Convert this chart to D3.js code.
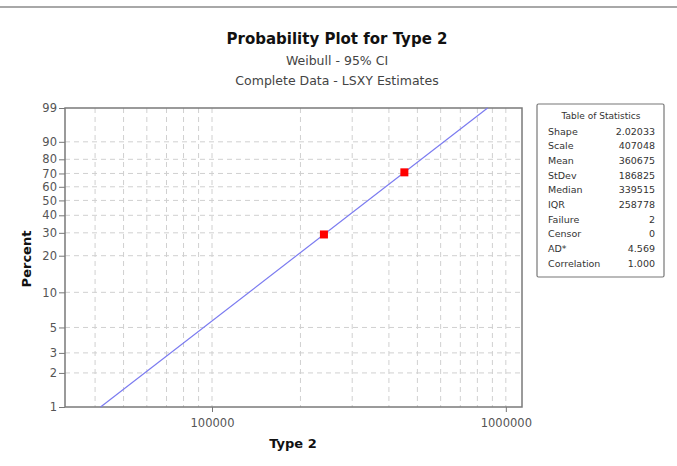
<!DOCTYPE html>
<html>
<head>
<meta charset="utf-8">
<script src="https://cdn.jsdelivr.net/npm/d3@7"></script>
<style>
  body { margin: 0; background: #fff; }
  text { font-family: "DejaVu Sans", sans-serif; }
</style>
</head>
<body>
<script>
// values
var failTimes = [240400, 451500];
var failPct = [29.17, 70.83];
var pctTicks = [1, 2, 3, 5, 10, 20, 30, 40, 50, 60, 70, 80, 90, 99];
var xLabelTicks = [100000, 1000000];
var xGrid = [40000, 50000, 60000, 70000, 80000, 90000, 100000, 200000, 300000,
             400000, 500000, 600000, 700000, 800000, 900000, 1000000];
var shape = 2.02033, scaleParam = 407048;
var statNames = ["Shape", "Scale", "Mean", "StDev", "Median", "IQR", "Failure", "Censor", "AD*", "Correlation"];
var statValues = ["2.02033", "407048", "360675", "186825", "339515", "258778", "2", "0", "4.569", "1.000"];

var W = 677, H = 466;
var pl = 65, pr = 522, pt = 108, pb = 407;

var svg = d3.select("body").append("svg")
    .attr("width", W)
    .attr("height", H);

// window frame edge
svg.append("line").attr("x1", 0).attr("x2", W).attr("y1", 7).attr("y2", 7)
    .attr("stroke", "#a8a8a8").attr("stroke-width", 2);

function wt(p) { return Math.log(-Math.log(1 - p / 100)); }

var x = d3.scaleLog().domain([31600, 1135000]).range([pl, pr]);
var y = d3.scaleLinear().domain([wt(1), wt(99)]).range([pb, pt]);

// grid
svg.selectAll("line.vg")
    .data(xGrid)
    .enter()
    .append("line")
    .attr("x1", function(d) { return x(d); })
    .attr("x2", function(d) { return x(d); })
    .attr("y1", pt)
    .attr("y2", pb)
    .attr("stroke", "#d0d0d0")
    .attr("stroke-dasharray", "5,4");

svg.selectAll("line.hg")
    .data(pctTicks.slice(1, -1))
    .enter()
    .append("line")
    .attr("x1", pl)
    .attr("x2", pr)
    .attr("y1", function(d) { return y(wt(d)); })
    .attr("y2", function(d) { return y(wt(d)); })
    .attr("stroke", "#d0d0d0")
    .attr("stroke-dasharray", "5,4");

// axes
var yAxis = d3.axisLeft(y)
    .tickValues(pctTicks.map(wt))
    .tickFormat(function(d, i) { return pctTicks[i]; })
    .tickSize(6)
    .tickPadding(2);
var gy = svg.append("g").attr("transform", "translate(" + pl + ",0)").call(yAxis);

var xAxis = d3.axisBottom(x)
    .tickValues(xLabelTicks)
    .tickFormat(d3.format("d"))
    .tickSize(5)
    .tickPadding(7);
var gx = svg.append("g").attr("transform", "translate(0," + pb + ")").call(xAxis);

[gx, gy].forEach(function(g) {
    g.select(".domain").remove();
    g.selectAll(".tick line").attr("stroke", "#777");
    g.selectAll(".tick text")
        .attr("fill", "#555")
        .attr("font-size", "11.5px")
        .attr("font-family", "'DejaVu Sans', sans-serif");
});

// frame
svg.append("rect")
    .attr("x", pl).attr("y", pt)
    .attr("width", pr - pl).attr("height", pb - pt)
    .attr("fill", "none")
    .attr("stroke", "#7a7a7a")
    .attr("stroke-width", 1.5);

// fitted line
var linePct = [1, 99];
svg.append("path")
    .datum(linePct)
    .attr("fill", "none")
    .attr("stroke", "#7b7bf0")
    .attr("stroke-width", 1.2)
    .attr("d", d3.line()
        .x(function(p) { return x(scaleParam * Math.pow(-Math.log(1 - p / 100), 1 / shape)); })
        .y(function(p) { return y(wt(p)); }));

// points
svg.selectAll("rect.pt")
    .data(failTimes)
    .enter()
    .append("rect")
    .attr("x", function(d) { return x(d) - 4; })
    .attr("y", function(d, i) { return y(wt(failPct[i])) - 4; })
    .attr("width", 8)
    .attr("height", 8)
    .attr("fill", "#ff0000");

// titles
svg.append("text").text("Probability Plot for Type 2")
    .attr("x", 337).attr("y", 44)
    .attr("text-anchor", "middle")
    .attr("font-size", "15px").attr("font-weight", "bold").attr("fill", "#111");
svg.append("text").text("Weibull - 95% CI")
    .attr("x", 337).attr("y", 64.5)
    .attr("text-anchor", "middle")
    .attr("font-size", "12.5px").attr("fill", "#444");
svg.append("text").text("Complete Data - LSXY Estimates")
    .attr("x", 337).attr("y", 85)
    .attr("text-anchor", "middle")
    .attr("font-size", "12.5px").attr("fill", "#444");

svg.append("text").text("Type 2")
    .attr("x", 293).attr("y", 448)
    .attr("text-anchor", "middle")
    .attr("font-size", "13px").attr("font-weight", "bold").attr("fill", "#111");
svg.append("text").text("Percent")
    .attr("transform", "translate(31,259) rotate(-90)")
    .attr("text-anchor", "middle")
    .attr("font-size", "13px").attr("font-weight", "bold").attr("fill", "#111");

// table of statistics
var tb = svg.append("g");
tb.append("rect")
    .attr("x", 537).attr("y", 104)
    .attr("width", 127).attr("height", 173)
    .attr("fill", "#fff")
    .attr("stroke", "#777")
    .attr("stroke-width", 1.2)
    .attr("rx", 1.5);
tb.append("text").text("Table of Statistics")
    .attr("x", 601).attr("y", 119)
    .attr("text-anchor", "middle")
    .attr("font-size", "9px").attr("fill", "#333");
tb.selectAll("text.sn")
    .data(statNames)
    .enter()
    .append("text")
    .text(function(d) { return d; })
    .attr("x", 548)
    .attr("y", function(d, i) { return 134.5 + i * 14.7; })
    .attr("font-size", "9.5px")
    .attr("fill", "#333");
tb.selectAll("text.sv")
    .data(statValues)
    .enter()
    .append("text")
    .text(function(d) { return d; })
    .attr("x", 655)
    .attr("y", function(d, i) { return 134.5 + i * 14.7; })
    .attr("text-anchor", "end")
    .attr("font-size", "9.5px")
    .attr("fill", "#333");
</script>
</body>
</html>
